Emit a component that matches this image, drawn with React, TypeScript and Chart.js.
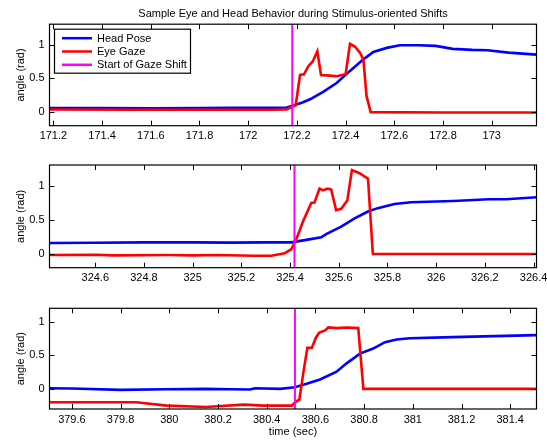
import { useEffect, useRef } from "react";
import { Chart, registerables } from "chart.js";

Chart.register(...registerables);

// ---------- data ----------
const TITLE = "Sample Eye and Head Behavior during Stimulus-oriented Shifts";
const X_LABEL = "time (sec)";
const Y_LABEL = "angle (rad)";
const SERIES_LABELS = ["Head Pose", "Eye Gaze", "Start of Gaze Shift"];
const SERIES_COLORS = ["#0000ff", "#ff0000", "#ff00ff"];

// x-axis windows (start time of each 2-second window)
const X_MIN = [171.184, 324.412, 379.508];
const WINDOW = 2.0;
const Y_MIN = [-0.2, -0.2, -0.3];
const Y_MAX = [1.3, 1.3, 1.2];
const Y_TICKS = [0, 0.5, 1];
const X_TICKS_1 = [171.2, 171.4, 171.6, 171.8, 172, 172.2, 172.4, 172.6, 172.8, 173];
const X_TICKS_2 = [324.6, 324.8, 325, 325.2, 325.4, 325.6, 325.8, 326, 326.2, 326.4];
const X_TICKS_3 = [379.6, 379.8, 380, 380.2, 380.4, 380.6, 380.8, 381, 381.2, 381.4];

// gaze shift onsets
const SHIFT_T = [172.181, 325.418, 380.516];

// panel 1
const HEAD1_T = [171.184, 171.4, 171.6, 171.8, 171.93, 172.05, 172.158, 172.185, 172.22, 172.254, 172.308, 172.363, 172.418, 172.473, 172.514, 172.569, 172.623, 172.7, 172.77, 172.84, 172.92, 172.983, 173.069, 173.184];
const HEAD1_V = [0.06, 0.06, 0.058, 0.062, 0.066, 0.064, 0.07, 0.1, 0.14, 0.19, 0.3, 0.43, 0.61, 0.78, 0.89, 0.95, 0.99, 0.99, 0.98, 0.935, 0.92, 0.915, 0.88, 0.85];
const EYE1_T = [171.184, 171.5, 171.8, 172.1, 172.158, 172.179, 172.195, 172.213, 172.229, 172.247, 172.265, 172.284, 172.299, 172.336, 172.363, 172.4, 172.418, 172.438, 172.459, 172.473, 172.486, 172.503, 172.8, 173.184];
const EYE1_V = [0.04, 0.035, 0.035, 0.035, 0.04, 0.08, 0.1, 0.55, 0.56, 0.68, 0.75, 0.9, 0.55, 0.54, 0.53, 0.56, 1.01, 0.97, 0.88, 0.78, 0.24, 0.0, -0.005, -0.005];

// panel 2
const HEAD2_T = [324.412, 324.6, 324.8, 325.0, 325.158, 325.3, 325.405, 325.473, 325.528, 325.548, 325.61, 325.665, 325.72, 325.76, 325.829, 325.897, 325.93, 326.07, 326.216, 326.287, 326.412];
const HEAD2_V = [0.16, 0.165, 0.17, 0.17, 0.166, 0.17, 0.17, 0.21, 0.245, 0.29, 0.4, 0.52, 0.62, 0.67, 0.73, 0.755, 0.76, 0.775, 0.8, 0.8, 0.83];
const EYE2_T = [324.412, 324.6, 324.672, 324.9, 325.0, 325.1, 325.25, 325.323, 325.377, 325.405, 325.425, 325.453, 325.487, 325.5, 325.521, 325.535, 325.555, 325.569, 325.589, 325.61, 325.635, 325.654, 325.685, 325.72, 325.74, 326.412];
const EYE2_V = [-0.015, -0.01, -0.02, -0.015, -0.02, -0.015, -0.025, -0.025, 0.01, 0.07, 0.21, 0.475, 0.745, 0.75, 0.955, 0.93, 0.955, 0.94, 0.64, 0.66, 0.78, 1.225, 1.18, 1.1, 0.0, 0.0];

// panel 3
const HEAD3_T = [379.508, 379.6, 379.8, 379.99, 380.15, 380.25, 380.332, 380.352, 380.455, 380.516, 380.564, 380.619, 380.687, 380.728, 380.783, 380.837, 380.886, 380.934, 380.988, 381.164, 381.508];
const HEAD3_V = [0.01, 0.005, -0.015, -0.005, 0.0, -0.005, -0.01, 0.01, 0.0, 0.025, 0.075, 0.14, 0.255, 0.38, 0.525, 0.6, 0.695, 0.735, 0.755, 0.77, 0.8];
const EYE3_T = [379.508, 379.863, 379.99, 380.15, 380.306, 380.386, 380.503, 380.516, 380.534, 380.55, 380.567, 380.585, 380.603, 380.616, 380.64, 380.653, 380.687, 380.728, 380.776, 380.797, 381.508];
const EYE3_V = [-0.2, -0.2, -0.25, -0.27, -0.235, -0.25, -0.25, -0.2, -0.16, 0.23, 0.61, 0.61, 0.77, 0.84, 0.87, 0.915, 0.905, 0.915, 0.905, 0.0, 0.0];

// ---------- helpers ----------
const FONT = "'Liberation Sans', Arial, Helvetica, sans-serif";
const W = 547;
const AXIS_W = 49.5;
const RIGHT_PAD = 10.5;

const pts = (t: number[], v: number[]) => t.map((x, i) => ({ x, y: v[i] }));
const fmt = (v: number) => String(Number(v.toFixed(2)));

const axesPlugin = {
  id: "matlabAxes",
  afterDatasetsDraw(chart: any) {
    const { ctx, chartArea: a, scales } = chart;
    ctx.save();
    ctx.strokeStyle = "#000";
    ctx.lineWidth = 1;
    ctx.beginPath();
    const L = 5;
    scales.x.ticks.forEach((t: any) => {
      const p = Math.round(scales.x.getPixelForValue(t.value)) + 0.5;
      ctx.moveTo(p, a.bottom);
      ctx.lineTo(p, a.bottom - L);
      ctx.moveTo(p, a.top);
      ctx.lineTo(p, a.top + L);
    });
    scales.y.ticks.forEach((t: any) => {
      const p = Math.round(scales.y.getPixelForValue(t.value)) + 0.5;
      ctx.moveTo(a.left, p);
      ctx.lineTo(a.left + L, p);
      ctx.moveTo(a.right, p);
      ctx.lineTo(a.right - L, p);
    });
    ctx.stroke();
    ctx.lineWidth = 1.2;
    ctx.strokeRect(a.left, a.top, a.right - a.left, a.bottom - a.top);
    ctx.restore();
  },
};

const legendPlugin = {
  id: "boxLegend",
  afterDraw(chart: any) {
    if (!chart.options.plugins.boxLegend?.show) return;
    const { ctx, chartArea: a } = chart;
    const bx = a.left + 5;
    const by = a.top + 5;
    const bw = 136;
    const bh = 44;
    ctx.save();
    ctx.fillStyle = "#fff";
    ctx.fillRect(bx, by, bw, bh);
    ctx.strokeStyle = "#000";
    ctx.lineWidth = 1.2;
    ctx.strokeRect(bx, by, bw, bh);
    ctx.font = `11px ${FONT}`;
    ctx.textBaseline = "middle";
    ctx.textAlign = "left";
    chart.data.datasets.forEach((ds: any, i: number) => {
      const y = by + 9 + i * 13.3;
      ctx.strokeStyle = ds.borderColor;
      ctx.lineWidth = 2.5;
      ctx.beginPath();
      ctx.moveTo(bx + 7.5, y);
      ctx.lineTo(bx + 37.5, y);
      ctx.stroke();
      ctx.fillStyle = "#000";
      ctx.fillText(ds.label, bx + 42.5, y + 0.5);
    });
    ctx.restore();
  },
};

type PanelCfg = {
  idx: number;
  height: number;
  padTop: number;
  xAxisH: number;
  xTicks: number[];
  head: { x: number; y: number }[];
  eye: { x: number; y: number }[];
  title: boolean;
  xTitle: boolean;
  legend: boolean;
};

function makeConfig(p: PanelCfg): any {
  const ymin = Y_MIN[p.idx];
  const ymax = Y_MAX[p.idx];
  const st = SHIFT_T[p.idx];
  return {
    type: "line",
    data: {
      datasets: [
        { label: SERIES_LABELS[0], data: p.head, borderColor: SERIES_COLORS[0], borderWidth: 2.6, pointRadius: 0, tension: 0, order: 3 },
        { label: SERIES_LABELS[1], data: p.eye, borderColor: SERIES_COLORS[1], borderWidth: 2.6, pointRadius: 0, tension: 0, order: 2 },
        { label: SERIES_LABELS[2], data: [{ x: st, y: ymin }, { x: st, y: ymax }], borderColor: SERIES_COLORS[2], borderWidth: 2, pointRadius: 0, order: 1 },
      ],
    },
    options: {
      animation: false,
      responsive: false,
      maintainAspectRatio: false,
      layout: { padding: { left: 0, right: RIGHT_PAD, top: p.padTop, bottom: 0 } },
      plugins: {
        legend: { display: false },
        tooltip: { enabled: false },
        title: {
          display: p.title,
          text: TITLE,
          color: "#000",
          fullSize: false,
          font: { family: FONT, size: 11, weight: "normal" },
          padding: { top: 7, bottom: 4 },
        },
        boxLegend: { show: p.legend },
      },
      scales: {
        x: {
          type: "linear",
          min: X_MIN[p.idx],
          max: X_MIN[p.idx] + WINDOW,
          grid: { display: false, drawTicks: false },
          border: { display: false },
          ticks: {
            autoSkip: false,
            maxRotation: 0,
            padding: 4,
            color: "#000",
            font: { family: FONT, size: 11 },
            callback: (v: number) => fmt(v),
          },
          title: {
            display: p.xTitle,
            text: X_LABEL,
            color: "#000",
            font: { family: FONT, size: 11 },
            padding: { top: 0, bottom: 1 },
          },
          afterBuildTicks: (s: any) => {
            s.ticks = p.xTicks.map((value) => ({ value }));
          },
          afterFit: (s: any) => {
            s.height = p.xAxisH;
            s.paddingLeft = 0;
            s.paddingRight = 0;
          },
        },
        y: {
          type: "linear",
          min: ymin,
          max: ymax,
          grid: { display: false, drawTicks: false },
          border: { display: false },
          ticks: {
            padding: 5,
            color: "#000",
            font: { family: FONT, size: 11 },
            callback: (v: number) => fmt(v),
          },
          title: {
            display: true,
            text: Y_LABEL,
            color: "#000",
            font: { family: FONT, size: 11 },
            padding: { top: 14, bottom: 0 },
          },
          afterBuildTicks: (s: any) => {
            s.ticks = Y_TICKS.map((value) => ({ value }));
          },
          afterFit: (s: any) => {
            s.width = AXIS_W;
            s.paddingTop = 0;
            s.paddingBottom = 0;
          },
        },
      },
    },
    plugins: [axesPlugin, legendPlugin],
  };
}

const PANELS: PanelCfg[] = [
  { idx: 0, height: 150, padTop: 0, xAxisH: 24.3, xTicks: X_TICKS_1, head: pts(HEAD1_T, HEAD1_V), eye: pts(EYE1_T, EYE1_V), title: true, xTitle: false, legend: true },
  { idx: 1, height: 140, padTop: 15, xAxisH: 22.3, xTicks: X_TICKS_2, head: pts(HEAD2_T, HEAD2_V), eye: pts(EYE2_T, EYE2_V), title: false, xTitle: false, legend: false },
  { idx: 2, height: 150, padTop: 18.3, xAxisH: 31, xTicks: X_TICKS_3, head: pts(HEAD3_T, HEAD3_V), eye: pts(EYE3_T, EYE3_V), title: false, xTitle: true, legend: false },
];
const PANEL_TOPS = [0, 150, 290];

function Panel({ cfg, top }: { cfg: PanelCfg; top: number }) {
  const ref = useRef<HTMLCanvasElement | null>(null);
  useEffect(() => {
    if (!ref.current) return;
    const chart = new Chart(ref.current, makeConfig(cfg));
    return () => chart.destroy();
  }, [cfg]);
  return (
    <canvas
      ref={ref}
      width={W}
      height={cfg.height}
      style={{ position: "absolute", left: 0, top, width: W, height: cfg.height }}
    />
  );
}

export default function App() {
  return (
    <div style={{ position: "fixed", left: 0, top: 0, width: W, height: 440, background: "#fff" }}>
      {PANELS.map((p, i) => (
        <Panel key={i} cfg={p} top={PANEL_TOPS[i]} />
      ))}
    </div>
  );
}
